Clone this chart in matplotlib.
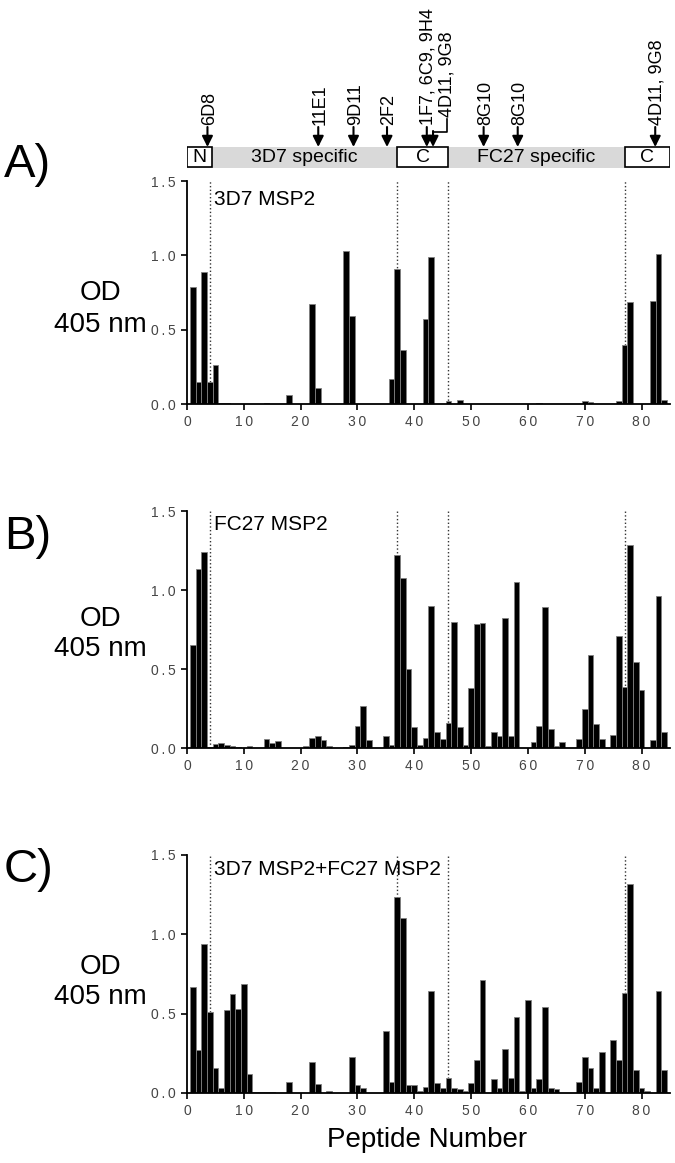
import matplotlib
matplotlib.use("Agg")
import matplotlib.pyplot as plt
from matplotlib.patches import Rectangle

plt.rcParams["font.family"] = ["Liberation Sans", "DejaVu Sans"]

W = 675
H = 1163

peptides = list(range(1, 85))

# OD 405 nm per peptide (1..84)
od_3d7 = [0.79, 0.15, 0.89, 0.15, 0.26, 0.01, 0.005, 0, 0, 0,
          0, 0, 0, 0.005, 0, 0, 0, 0.06, 0, 0,
          0, 0.67, 0.11, 0, 0, 0, 0, 1.03, 0.59, 0,
          0, 0, 0, 0, 0, 0.17, 0.91, 0.36, 0, 0,
          0, 0.57, 0.99, 0, 0, 0.02, 0, 0.03, 0, 0,
          0, 0, 0, 0, 0, 0, 0, 0, 0, 0,
          0, 0.005, 0, 0, 0, 0, 0, 0, 0, 0.02,
          0.015, 0, 0, 0, 0, 0.02, 0.40, 0.685, 0, 0,
          0, 0.695, 1.01, 0.03]

od_fc27 = [0.65, 1.13, 1.24, 0.005, 0.025, 0.03, 0.02, 0.01, 0.005, 0,
           0.01, 0, 0.003, 0.054, 0.03, 0.045, 0, 0, 0, 0,
           0.01, 0.063, 0.077, 0.05, 0.01, 0.003, 0.003, 0.005, 0.02, 0.14,
           0.265, 0.05, 0, 0, 0.073, 0.02, 1.22, 1.075, 0.50, 0.136,
           0.02, 0.063, 0.90, 0.10, 0.055, 0.16, 0.80, 0.13, 0.02, 0.38,
           0.785, 0.79, 0.015, 0.10, 0.073, 0.82, 0.073, 1.05, 0.003, 0,
           0.04, 0.14, 0.89, 0.12, 0.015, 0.04, 0, 0, 0.06, 0.245,
           0.59, 0.15, 0.058, 0, 0.085, 0.71, 0.385, 1.285, 0.545, 0.37,
           0, 0.05, 0.965, 0.10]

od_both = [0.67, 0.27, 0.94, 0.51, 0.155, 0.03, 0.52, 0.625, 0.53, 0.685,
           0.12, 0.005, 0.005, 0.005, 0.005, 0, 0, 0.07, 0, 0,
           0, 0.195, 0.055, 0, 0.01, 0, 0, 0, 0.225, 0.05,
           0.03, 0.003, 0.003, 0.003, 0.39, 0.07, 1.235, 1.105, 0.048, 0.048,
           0.015, 0.04, 0.645, 0.06, 0.03, 0.097, 0.03, 0.025, 0.01, 0.06,
           0.205, 0.715, 0, 0.09, 0.03, 0.275, 0.097, 0.477, 0.015, 0.585,
           0.03, 0.09, 0.545, 0.03, 0.025, 0, 0, 0, 0.07, 0.225,
           0.16, 0.03, 0.26, 0, 0.335, 0.21, 0.63, 1.315, 0.145, 0.03,
           0.015, 0, 0.645, 0.145]

boundaries = [4, 37, 46, 77]

regions = ["N", "3D7 specific", "C", "FC27 specific", "C"]
region_start = [0, 4.4, 37, 46, 77]
region_end = [4.4, 37, 46, 77, 85]
region_boxed = [True, False, True, False, True]

mab_names = ["6D8", "11E1", "9D11", "2F2", "1F7, 6C9, 9H4", "8G10", "8G10", "4D11, 9G8"]
mab_pos = [3.6, 23.1, 29.3, 35.2, 42.2, 52.2, 58.2, 82.4]
bracket_name = "4D11, 9G8"
bracket_pos = 43.3
bracket_text_pos = 45.7


def spaced(s):
    return "\u2009".join(s)


def px_axes(fig, top, bottom, left=187, right=670):
    return fig.add_axes([left / W, 1 - bottom / H, (right - left) / W, (bottom - top) / H])


def draw_panel(ax, values, title, title_y):
    for b in boundaries:
        ax.axvline(b, color="#333333", linestyle=":", linewidth=1.0, zorder=0)
    ax.bar(peptides, values, width=1.0, color="black", edgecolor="#808080", linewidth=0.6, zorder=2)
    ax.set_xlim(0, 85)
    ax.set_ylim(0, 1.5)
    ax.spines["top"].set_visible(False)
    ax.spines["right"].set_visible(False)
    ax.spines["left"].set_linewidth(1.3)
    ax.spines["bottom"].set_linewidth(1.3)
    ax.set_yticks([0, 0.5, 1.0, 1.5])
    ax.set_yticklabels([spaced(t) for t in ["0.0", "0.5", "1.0", "1.5"]])
    ax.set_xticks(range(0, 81, 10))
    ax.set_xticklabels([spaced(str(t)) for t in range(0, 81, 10)])
    ax.tick_params(direction="out", length=4, width=1.2, labelsize=10, labelcolor="#444444", pad=4)
    ax.text(4.8, title_y, title, fontsize=15, va="top", ha="left")


def draw_header(ax):
    ax.set_xlim(0, 85)
    ax.set_ylim(172, 0)
    ax.axis("off")
    ax.add_patch(Rectangle((0, 147), 85, 21, facecolor="#d9d9d9", edgecolor="none"))
    for name, s, e, boxed in zip(regions, region_start, region_end, region_boxed):
        if boxed:
            ax.add_patch(Rectangle((s, 147), e - s, 20, facecolor="white", edgecolor="black", linewidth=1.2))
        ax.text((s + e) / 2, 157.5, name, fontsize=14, ha="center", va="center")

    for name, x in zip(mab_names, mab_pos):
        ax.annotate("", xy=(x, 147), xytext=(x, 127),
                    arrowprops=dict(arrowstyle="-|>", color="black", lw=1.5, mutation_scale=16, shrinkA=0, shrinkB=0))
        ax.text(x + 0.3, 125, name, fontsize=13, rotation=90, ha="center", va="bottom")

    ax.annotate("", xy=(bracket_pos, 147), xytext=(bracket_pos, 131),
                arrowprops=dict(arrowstyle="-|>", color="black", lw=1.5, mutation_scale=16, shrinkA=0, shrinkB=0))
    ax.plot([bracket_pos, bracket_text_pos, bracket_text_pos], [131.5, 131.5, 119], color="black", lw=1.2)
    ax.text(bracket_text_pos, 117, bracket_name, fontsize=13, rotation=90, ha="center", va="bottom")


def main():
    fig = plt.figure(figsize=(W / 100, H / 100), dpi=100)

    header = px_axes(fig, 0, 172)
    draw_header(header)

    ax_a = px_axes(fig, 181, 404)
    ax_b = px_axes(fig, 511, 748)
    ax_c = px_axes(fig, 855, 1093)

    draw_panel(ax_a, od_3d7, "3D7 MSP2", 1.44)
    draw_panel(ax_b, od_fc27, "FC27 MSP2", 1.475)
    draw_panel(ax_c, od_both, "3D7 MSP2+FC27 MSP2", 1.47)

    for label, y_label, y_od in [("A)", 165, 309), ("B)", 537, 634), ("C)", 870, 982)]:
        fig.text(4 / W, 1 - y_label / H, label, fontsize=34, ha="left", va="center")
        fig.text(100 / W, 1 - y_od / H, "OD\n405 nm", fontsize=20, ha="center", va="center", linespacing=1.25)

    fig.text(427 / W, 1 - 1140 / H, "Peptide Number", fontsize=20, ha="center", va="center")

    fig.savefig("out.png", dpi=100)


if __name__ == "__main__":
    main()
